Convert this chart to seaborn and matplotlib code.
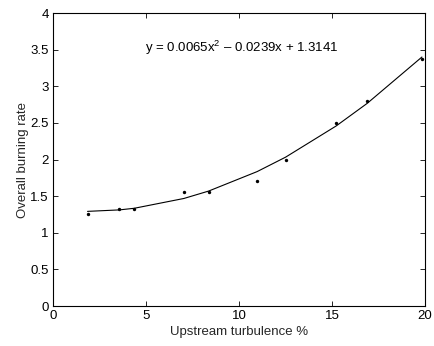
import matplotlib
matplotlib.use("Agg")
import matplotlib.pyplot as plt
import seaborn as sns
import pandas as pd

turbulence = [1.86, 3.57, 4.37, 7.04, 8.37, 10.98, 12.51, 15.23, 16.9, 19.84]
burning_rate = [1.26, 1.325, 1.33, 1.55, 1.56, 1.71, 2.00, 2.50, 2.80, 3.37]
fitted_rate = [1.292, 1.312, 1.334, 1.468, 1.569, 1.835, 2.032, 2.458, 2.767, 3.399]
x_ticks = [0, 5, 10, 15, 20]
y_ticks = [0, 0.5, 1, 1.5, 2, 2.5, 3, 3.5, 4]
y_ticklabels = ["0", "0.5", "1", "1.5", "2", "2.5", "3", "3.5", "4"]
equation = "y = 0.0065x$^2$ \u2013 0.0239x + 1.3141"

sns.set_theme(style="white")
plt.rcParams["font.family"] = ["Liberation Sans", "DejaVu Sans"]
plt.rcParams["mathtext.fontset"] = "custom"
plt.rcParams["mathtext.rm"] = "Liberation Sans"

df = pd.DataFrame({"x": turbulence, "y": burning_rate, "fit": fitted_rate})

fig = plt.figure(figsize=(4.34, 3.46), dpi=100)
ax = fig.add_axes([0.122, 0.1156, 0.857, 0.8468])

sns.lineplot(data=df, x="x", y="fit", ax=ax, color="black", linewidth=0.8)
sns.scatterplot(data=df, x="x", y="y", ax=ax, color="black", s=6, marker="o",
                edgecolor="black", linewidth=0)

ax.set_xlim(0, 20)
ax.set_ylim(0, 4)
ax.set_xticks(x_ticks)
ax.set_xticklabels([str(t) for t in x_ticks])
ax.set_yticks(y_ticks)
ax.set_yticklabels(y_ticklabels)
ax.set_xlabel("Upstream turbulence %", fontsize=9.5, labelpad=3)
ax.set_ylabel("Overall burning rate", fontsize=9.5, labelpad=1)
ax.tick_params(direction="in", length=3.5, width=0.6, labelsize=9.5,
               top=True, right=True, bottom=True, left=True, pad=3, colors="black")
for s in ax.spines.values():
    s.set_color("black")
    s.set_linewidth(0.8)
ax.text(4.95, 3.52, equation, fontsize=9.5, color="black", va="center", ha="left")

fig.savefig("out.png", dpi=100)
